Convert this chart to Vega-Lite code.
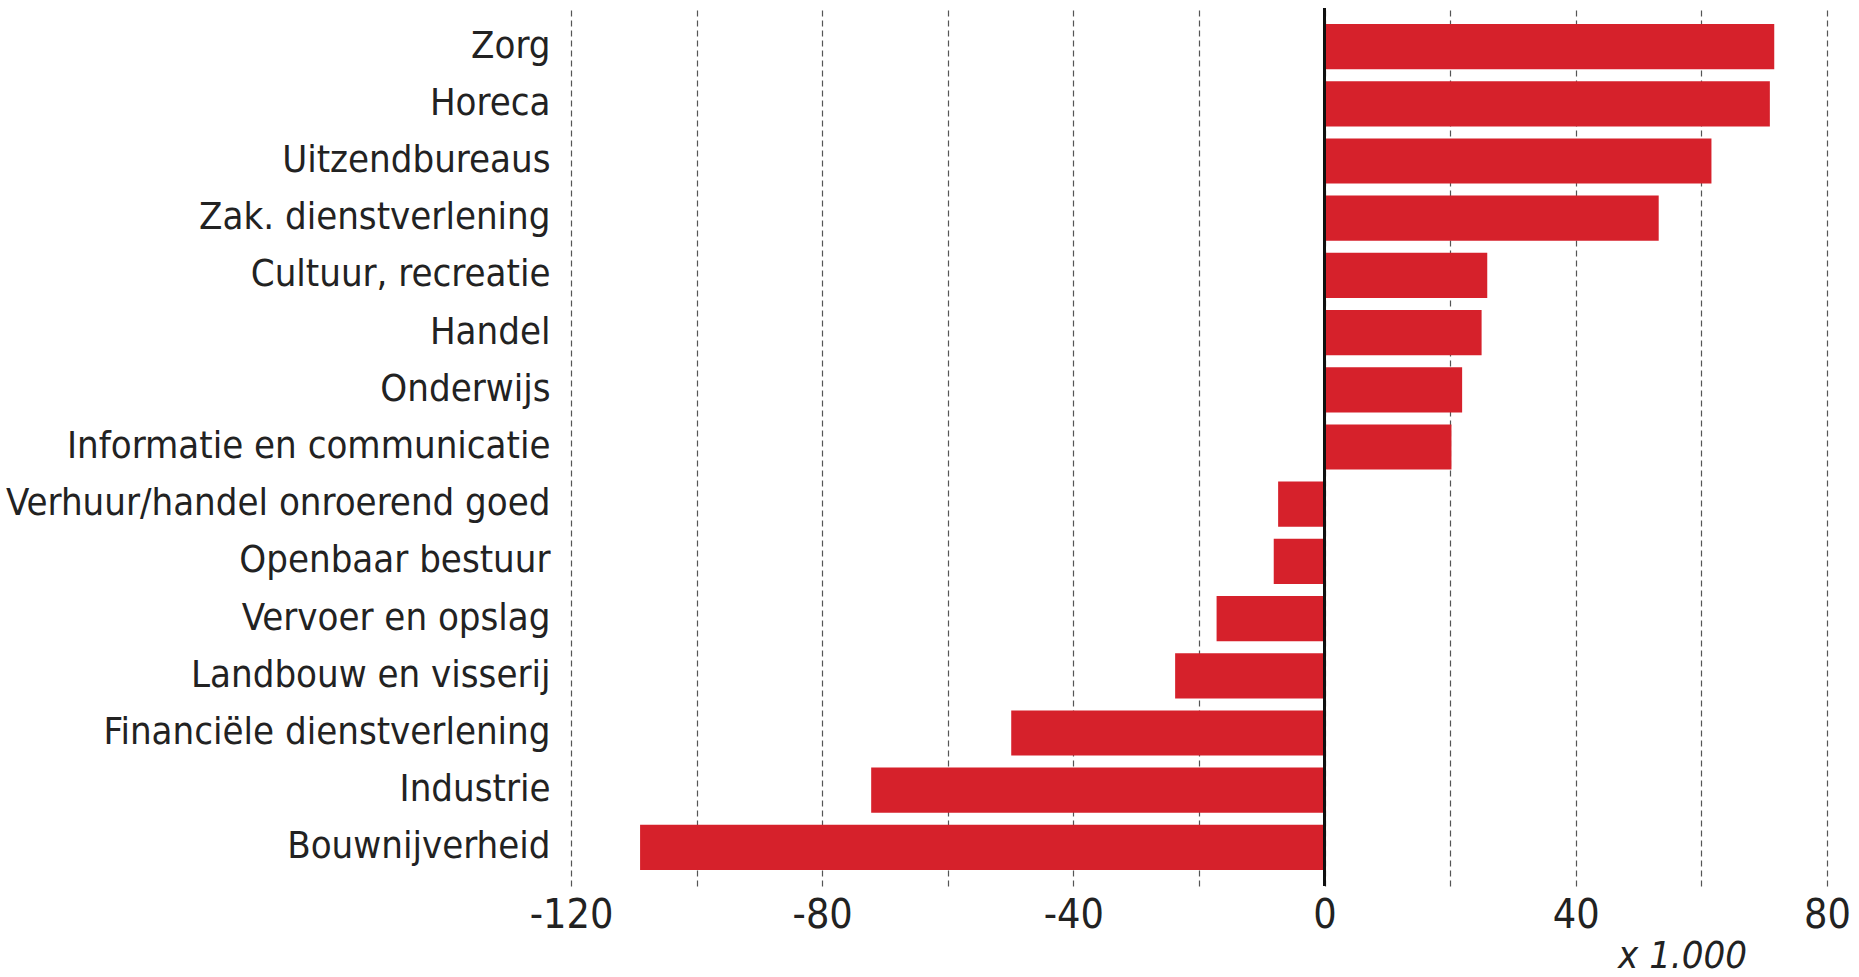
{
  "$schema": "https://vega.github.io/schema/vega-lite/v6.json",
  "autosize": "none",
  "width": 1256,
  "height": 878,
  "padding": {"left": 571, "top": 8, "right": 32, "bottom": 91},
  "background": "white",
  "config": {
    "view": {"stroke": null},
    "font": "DejaVu Sans Condensed, Roboto Condensed, Roboto"
  },
  "data": {
    "values": [
      {"sector": "Zorg", "value": 71.6},
      {"sector": "Horeca", "value": 70.9},
      {"sector": "Uitzendbureaus", "value": 61.6},
      {"sector": "Zak. dienstverlening", "value": 53.2},
      {"sector": "Cultuur, recreatie", "value": 25.9},
      {"sector": "Handel", "value": 25.0},
      {"sector": "Onderwijs", "value": 21.9},
      {"sector": "Informatie en communicatie", "value": 20.2},
      {"sector": "Verhuur/handel onroerend goed", "value": -7.4},
      {"sector": "Openbaar bestuur", "value": -8.1},
      {"sector": "Vervoer en opslag", "value": -17.2},
      {"sector": "Landbouw en visserij", "value": -23.8},
      {"sector": "Financiële dienstverlening", "value": -49.9},
      {"sector": "Industrie", "value": -72.2},
      {"sector": "Bouwnijverheid", "value": -109.0}
    ]
  },
  "layer": [
    {
      "mark": {"type": "bar", "color": "#d6212b"},
      "encoding": {
        "y": {
          "field": "sector",
          "type": "nominal",
          "sort": null,
          "scale": {"paddingInner": 0.21, "paddingOuter": 0.28},
          "axis": {
            "title": null,
            "domain": false,
            "ticks": false,
            "labelFont": "DejaVu Sans Condensed, Roboto Condensed, Roboto",
            "labelFontSize": 38,
            "labelColor": "#222222",
            "labelPadding": 21,
            "labelLimit": 700
          }
        },
        "x": {
          "field": "value",
          "type": "quantitative",
          "scale": {"domain": [-120, 80], "nice": false, "zero": false},
          "axis": {
            "values": [-120, -100, -80, -60, -40, -20, 0, 20, 40, 60, 80],
            "labelExpr": "datum.value % 40 === 0 ? '' + datum.value : ''",
            "domain": false,
            "ticks": false,
            "grid": true,
            "gridDash": [6, 4],
            "gridColor": "#555555",
            "gridWidth": 1.2,
            "labelFont": "DejaVu Sans Condensed, Roboto Condensed, Roboto",
            "labelFontSize": 41,
            "labelColor": "#222222",
            "labelPadding": 9,
            "labelFlush": false,
            "labelOverlap": false,
            "title": "x 1.000",
            "titleFont": "DejaVu Sans Condensed, Roboto Condensed, Roboto",
            "titleFontStyle": "italic",
            "titleFontWeight": "normal",
            "titleFontSize": 38,
            "titleColor": "#222222",
            "titleAlign": "center",
            "titleBaseline": "middle",
            "titleX": 1111,
            "titleY": 70
          }
        }
      }
    },
    {
      "mark": {"type": "rule", "color": "#111111", "strokeWidth": 2},
      "encoding": {
        "x": {"datum": 0, "type": "quantitative"}
      }
    }
  ]
}
